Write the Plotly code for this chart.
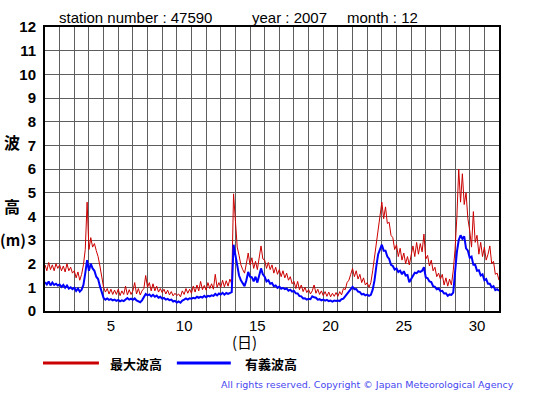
import plotly.graph_objects as go

# 3-hourly values, 8 per day (00,03,...,21h), Dec 1 .. Dec 31, plus final point at Jan 1 00h
max_wave = [
    1.95, 1.7, 2.05, 1.75, 1.95, 1.7, 2.0, 1.8,
    1.95, 1.7, 1.9, 1.65, 2.0, 1.7, 1.85, 1.6,
    1.7, 1.4, 1.65, 1.3, 1.55, 1.95, 2.6, 4.6,
    2.6, 3.1, 2.7, 2.85, 2.55, 2.3, 1.9, 1.4,
    1.0, 0.8, 0.95, 0.72, 0.92, 0.7, 0.88, 0.7,
    0.92, 0.65, 0.85, 0.7, 1.05, 0.68, 0.9, 0.7,
    0.85, 1.2, 0.72, 0.95, 0.68, 0.85, 0.95, 1.5,
    1.0, 1.2, 0.85, 1.15, 0.85, 1.05, 0.8, 0.95,
    0.78, 0.92, 0.72, 0.88, 0.68, 0.82, 0.64, 0.75,
    0.65, 0.72, 0.6, 0.85, 0.7, 0.95, 0.75, 0.92,
    0.75, 1.05, 0.8, 1.1, 0.85, 1.25, 0.9, 1.08,
    0.88, 1.2, 0.95, 1.15, 0.92, 1.55, 1.0, 1.2,
    1.0, 1.3, 1.02, 1.28, 1.05, 1.35, 1.15, 4.95,
    3.6, 2.7, 2.35, 1.95, 1.75, 1.6, 2.0, 2.45,
    1.95, 2.25, 1.8, 2.1, 1.75, 2.3, 2.75, 2.2,
    2.15, 1.8, 2.05, 1.75, 1.95, 1.6, 1.85, 1.55,
    1.75, 1.45, 1.7, 1.4, 1.6, 1.3, 1.45, 1.15,
    1.25, 0.95, 1.25, 0.9, 1.1, 0.82, 1.0, 0.78,
    0.9, 0.72, 0.85, 1.1, 0.75, 0.92, 0.7, 0.85,
    0.65, 0.82, 0.62, 0.8, 0.6, 0.75, 0.62, 0.78,
    0.62, 0.82, 0.68, 0.95, 0.9, 1.2, 1.3, 1.55,
    1.8, 1.45, 1.7, 1.35, 1.55, 1.2, 1.4, 1.1,
    1.2, 1.0, 1.2, 1.7, 2.3, 2.85, 3.5, 4.0,
    4.6, 3.9, 4.4, 3.7, 3.75, 3.2, 3.1, 2.6,
    2.8, 2.3, 2.65, 2.15, 2.45, 2.0, 2.3, 1.95,
    2.3, 2.75, 2.3, 2.9, 2.4, 2.85, 2.5, 3.25,
    2.2, 2.35, 1.9, 2.15, 1.7, 1.85, 1.45, 1.6,
    1.35, 1.55, 1.1, 1.4, 1.05, 1.35, 1.1, 1.7,
    2.6, 4.0, 6.0, 4.6, 5.8, 4.5, 5.0, 3.9,
    3.4, 2.7, 4.2, 2.9, 3.2, 2.4, 2.9, 2.3,
    2.7, 2.15, 2.4, 2.75, 2.0, 2.1, 1.55, 1.6,
    1.3,
]

sig_wave = [
    1.22, 1.12, 1.25, 1.08, 1.2, 1.1, 1.15, 1.08,
    1.12, 1.02, 1.1, 0.98, 1.08, 0.95, 1.0, 0.92,
    0.98, 0.85, 0.95, 0.82, 0.9, 1.1, 1.6, 2.15,
    1.7, 2.0, 1.8, 1.7, 1.45, 1.35, 1.05, 0.75,
    0.55, 0.48, 0.53, 0.47, 0.5, 0.45, 0.48, 0.43,
    0.47, 0.41, 0.45, 0.42, 0.49, 0.55, 0.48, 0.52,
    0.47, 0.53, 0.45, 0.42, 0.37, 0.45, 0.6, 0.72,
    0.66, 0.7, 0.62, 0.68, 0.6, 0.65, 0.56, 0.6,
    0.52, 0.55, 0.48, 0.51, 0.46, 0.48, 0.4, 0.43,
    0.36, 0.4, 0.35, 0.44, 0.48, 0.53, 0.48, 0.54,
    0.52, 0.56, 0.53, 0.6, 0.56, 0.6, 0.57, 0.64,
    0.58, 0.64, 0.62, 0.66, 0.64, 0.72, 0.66, 0.74,
    0.7, 0.77, 0.69, 0.76, 0.72, 0.77, 0.8, 2.8,
    2.3, 1.9, 1.5, 1.3, 1.2, 1.05, 1.3, 1.65,
    1.45, 1.42, 1.25, 1.45, 1.2, 1.5, 1.8, 1.55,
    1.45, 1.25, 1.3, 1.15, 1.18, 1.05, 1.08, 0.98,
    1.03, 0.94, 0.98, 0.92, 0.95, 0.86, 0.9, 0.82,
    0.85, 0.75, 0.74, 0.63, 0.62, 0.53, 0.54, 0.48,
    0.52, 0.5, 0.62, 0.58, 0.56, 0.48, 0.5, 0.45,
    0.48, 0.44, 0.47, 0.42, 0.44, 0.4, 0.44, 0.42,
    0.44, 0.42, 0.5, 0.52, 0.62, 0.68, 0.82, 0.88,
    1.02, 0.92, 0.93, 0.82, 0.8, 0.7, 0.72, 0.66,
    0.69, 0.64, 0.68, 0.9, 1.3, 1.9, 2.4, 2.6,
    2.8, 2.55, 2.55, 2.3, 2.2, 1.95, 1.9, 1.75,
    1.8, 1.65, 1.7, 1.55, 1.68, 1.5, 1.52, 1.22,
    1.35, 1.52, 1.62, 1.6, 1.68, 1.65, 1.7, 1.85,
    1.42, 1.38, 1.25, 1.22, 1.05, 1.02, 0.92, 0.95,
    0.84, 0.85, 0.74, 0.75, 0.64, 0.7, 0.68, 0.78,
    1.7, 2.5, 3.0, 3.2, 3.05, 3.15, 2.65, 2.55,
    2.25, 2.3, 1.95, 1.95, 1.7, 1.72, 1.5, 1.55,
    1.3, 1.35, 1.15, 1.15, 1.0, 1.05, 0.88, 0.92,
    0.85,
]

step_hours = 3
day_labels = [5, 10, 15, 20, 25, 30]
y_ticks = list(range(0, 13))
series_names = ["最大波高", "有義波高"]

x_vals = [1 + i * step_hours / 24 for i in range(len(max_wave))]

W, H = 555, 395
L, R, T, B = 45, 499.5, 27, 311.5
def px(x):
    return (x - L) / (R - L)
def py(y):
    return (B - y) / (B - T)

fig = go.Figure()
fig.add_trace(go.Scatter(x=x_vals, y=max_wave, mode="lines",
                         line=dict(color="#cc0000", width=1), name=series_names[0],
                         showlegend=False, hoverinfo="skip"))
fig.add_trace(go.Scatter(x=x_vals, y=sig_wave, mode="lines",
                         line=dict(color="#0000ff", width=2), name=series_names[1],
                         showlegend=False, hoverinfo="skip"))

font_lat = "Liberation Sans, Arial, sans-serif"
font_cjk = "Noto Sans CJK JP, sans-serif"
grid_col = "#5e5e5e"

fig.update_layout(
    width=W, height=H,
    margin=dict(l=L, r=W - R, t=T, b=H - B, pad=0),
    paper_bgcolor="white", plot_bgcolor="white",
    xaxis=dict(range=[1, 32], tickmode="array",
               tickvals=[d + 0.5 for d in day_labels],
               ticktext=[str(d) for d in day_labels],
               showgrid=False, zeroline=False, ticks="",
               tickfont=dict(family=font_lat, size=15, color="black"),
               showline=True, linecolor="black", linewidth=2, mirror=True,
               minor=dict(tick0=1, dtick=1, showgrid=True, gridcolor=grid_col,
                          gridwidth=1, ticks="")),
    yaxis=dict(range=[0, 12], tickmode="array", tickvals=y_ticks,
               ticktext=[str(v) for v in y_ticks],
               showgrid=True, gridcolor=grid_col, gridwidth=1, zeroline=False,
               ticks="", ticklabelstandoff=4,
               tickfont=dict(family=font_lat, size=15, color="black", weight="bold"),
               showline=True, linecolor="black", linewidth=2, mirror=True),
)

ann = []
def text(x, y, s, size=14, family=font_lat, color="black", xanchor="center", bold=False):
    ann.append(dict(x=px(x), y=py(y), xref="paper", yref="paper", text=s,
                    showarrow=False, xanchor=xanchor, yanchor="middle",
                    font=dict(family=family, size=size, color=color,
                              weight="bold" if bold else "normal")))

text(57, 17, "station number : 47590", size=15, xanchor="left")
text(250, 17, "year : 2007", size=15, xanchor="left")
text(345, 17, "month : 12", size=15, xanchor="left")
text(12, 142, "波", size=16, family=font_cjk, bold=True)
text(12, 206, "高", size=16, family=font_cjk, bold=True)
text(13, 240, "(m)", size=15, family=font_cjk, bold=True)
text(245, 342, "(日)", size=15, family=font_cjk)
text(108, 364, series_names[0], size=13, family=font_cjk, xanchor="left", bold=True)
text(243, 364, series_names[1], size=13, family=font_cjk, xanchor="left", bold=True)
text(517, 385, "All rights reserved. Copyright © Japan Meteorological Agency",
     size=9.5, family="DejaVu Sans, sans-serif", color="#4646f0", xanchor="right")
fig.update_layout(annotations=ann)

fig.add_shape(type="line", xref="paper", yref="paper",
              x0=px(43), x1=px(99), y0=py(363.5), y1=py(363.5),
              line=dict(color="#cc0000", width=3))
fig.add_shape(type="line", xref="paper", yref="paper",
              x0=px(177), x1=px(231), y0=py(363.5), y1=py(363.5),
              line=dict(color="#0000ff", width=3))

fig.write_html("out.html", config={"displayModeBar": False},
               post_script="document.body.style.margin='0px';")
